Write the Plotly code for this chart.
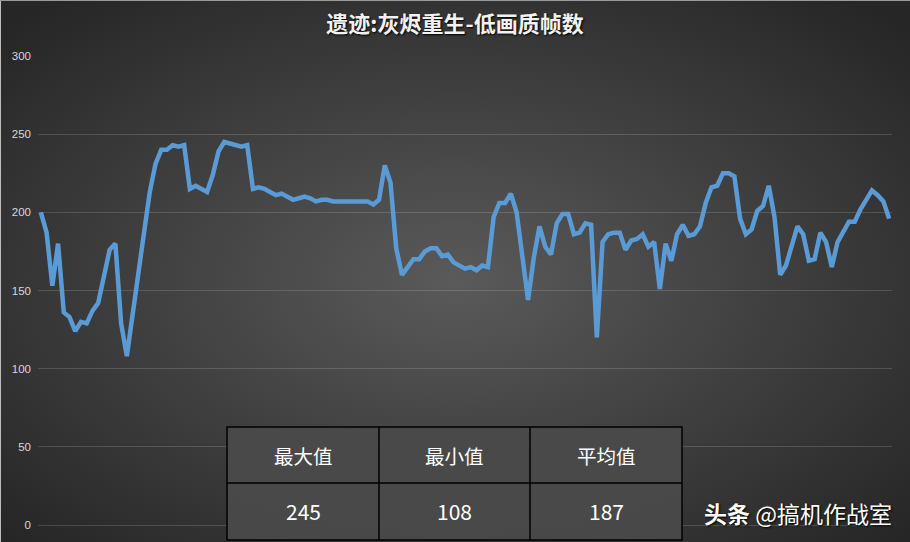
import base64
import plotly.graph_objects as go

# ---- data ----
fps = [200, 187, 153, 180, 136, 133, 124, 130, 129, 137,
       142, 159, 176, 180, 129, 108, 133, 160, 187, 213,
       231, 240, 240, 243, 242, 243, 215, 217, 215, 213,
       224, 239, 245, 244, 243, 242, 243, 215, 216, 215,
       213, 211, 212, 210, 208, 209, 210, 209, 207, 208,
       208, 207, 207, 207, 207, 207, 207, 207, 205, 208,
       230, 219, 177, 160, 165, 170, 170, 175, 177, 177,
       172, 173, 168, 166, 164, 165, 163, 166, 165, 197,
       206, 206, 212, 200, 171, 144, 171, 191, 178, 173,
       193, 199, 199, 186, 187, 193, 192, 120, 181, 186,
       187, 187, 176, 182, 183, 186, 178, 181, 151, 180,
       169, 186, 192, 185, 186, 191, 206, 216, 217, 225,
       225, 223, 196, 186, 189, 201, 204, 217, 197, 160,
       166, 179, 191, 186, 169, 170, 187, 181, 165, 181,
       188, 194, 194, 202, 208, 214, 211, 207, 196]
frames = list(range(len(fps)))
y_ticks = [0, 50, 100, 150, 200, 250, 300]
title_text = "遗迹:灰烬重生-低画质帧数"
table_headers = ["最大值", "最小值", "平均值"]
table_values = ["245", "108", "187"]
watermark = "<b>头条</b> @搞机作战室"

# ---- geometry ----
W, H = 910, 542
L, R, T, B = 38, 18, 56, 17
PW, PH = W - L - R, H - T - B


def px(x):
    return (x - L) / PW


def py(y):
    return (H - B - y) / PH


svg = (
    f'<svg xmlns="http://www.w3.org/2000/svg" width="{W}" height="{H}">'
    '<defs><radialGradient id="g" cx="50%" cy="52%" r="68%">'
    '<stop offset="0" stop-color="#5a5a5a"/>'
    '<stop offset="1" stop-color="#262626"/>'
    '</radialGradient></defs>'
    f'<rect width="{W}" height="{H}" fill="url(#g)"/></svg>'
)
bg_uri = "data:image/svg+xml;base64," + base64.b64encode(svg.encode()).decode()

fig = go.Figure()
fig.add_trace(go.Scatter(
    x=frames, y=fps, mode="lines",
    line=dict(color="#5b9bd5", width=4.5),
    hoverinfo="y", showlegend=False,
))

fig.update_layout(
    width=W, height=H,
    margin=dict(l=L, r=R, t=T, b=B),
    paper_bgcolor="#333333",
    plot_bgcolor="rgba(0,0,0,0)",
    title=dict(
        text=f"<b>{title_text}</b>", x=0.5, xref="container", xanchor="center",
        y=1 - 24 / H, yanchor="middle",
        font=dict(family="Noto Sans CJK SC", size=22, color="#f2f2f2",
                  shadow="1px 1px 2px #000000"),
    ),
    xaxis=dict(range=[-0.5, len(fps) - 0.5], showgrid=False, zeroline=False,
               showticklabels=False, ticks="", fixedrange=True),
    yaxis=dict(range=[0, 300], tickvals=y_ticks, showgrid=True,
               gridcolor="rgba(255,255,255,0.15)", gridwidth=1,
               zeroline=True, zerolinecolor="rgba(255,255,255,0.15)", zerolinewidth=1,
               ticks="", ticklabelstandoff=6,
               tickfont=dict(family="Liberation Sans", size=11.5, color="#d9d9d9")),
    images=[dict(source=bg_uri, xref="paper", yref="paper",
                 x=px(0), y=py(0), sizex=W / PW, sizey=H / PH,
                 xanchor="left", yanchor="top", sizing="stretch", layer="below")],
)

# table
tx = [227, 379, 530, 682]
ty_top, ty_mid, ty_bot = 427, 483, 540
shapes = [
    dict(type="rect", xref="paper", yref="paper",
         x0=px(tx[0]), x1=px(tx[-1]), y0=py(ty_bot), y1=py(ty_top),
         line=dict(color="#000000", width=1.5), fillcolor="rgba(74,74,74,0.95)",
         layer="above"),
    dict(type="line", xref="paper", yref="paper",
         x0=px(tx[0]), x1=px(tx[-1]), y0=py(ty_mid), y1=py(ty_mid),
         line=dict(color="#000000", width=1.5), layer="above"),
]
for xv in tx[1:-1]:
    shapes.append(dict(type="line", xref="paper", yref="paper",
                       x0=px(xv), x1=px(xv), y0=py(ty_bot), y1=py(ty_top),
                       line=dict(color="#000000", width=1.5), layer="above"))
shapes.append(dict(type="line", xref="paper", yref="paper",
                   x0=px(0.5), x1=px(0.5), y0=py(0), y1=py(H),
                   line=dict(color="#bdbdbd", width=1), layer="above"))
shapes.append(dict(type="line", xref="paper", yref="paper",
                   x0=px(0), x1=px(W), y0=py(0.5), y1=py(0.5),
                   line=dict(color="#9a9a9a", width=1), layer="above"))
fig.update_layout(shapes=shapes)

annots = []
for i, (h, v) in enumerate(zip(table_headers, table_values)):
    cx = (tx[i] + tx[i + 1]) / 2
    annots.append(dict(text=h, xref="paper", yref="paper", x=px(cx), y=py(455),
                       xanchor="center", yanchor="middle", showarrow=False,
                       font=dict(family="Noto Sans CJK SC", size=19.5, color="#ffffff")))
    annots.append(dict(text=v, xref="paper", yref="paper", x=px(cx), y=py(511),
                       xanchor="center", yanchor="middle", showarrow=False,
                       font=dict(family="Noto Sans CJK SC", size=21, color="#ffffff")))
annots.append(dict(text=watermark, xref="paper", yref="paper", x=px(894), y=py(513),
                   xanchor="right", yanchor="middle", showarrow=False,
                   font=dict(family="Noto Sans CJK SC", size=23, color="#ffffff",
                             shadow="1px 1px 2px #000000")))
fig.update_layout(annotations=annots)

fig.write_html(
    "out.html",
    config={"displayModeBar": False},
    post_script="document.body.style.margin='0';document.body.style.overflow='hidden';",
)
